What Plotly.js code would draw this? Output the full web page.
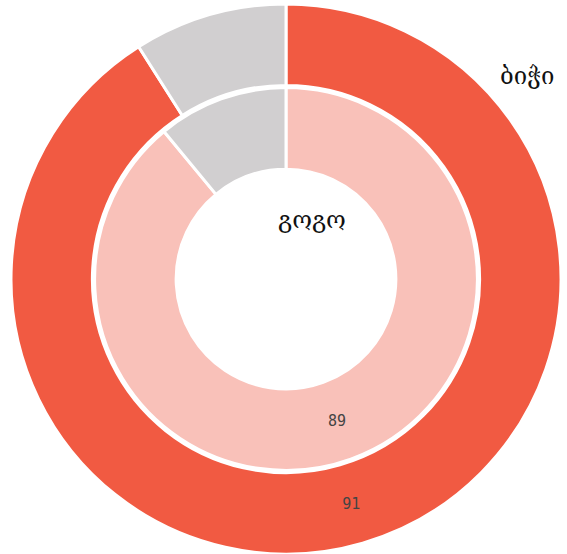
<!DOCTYPE html>
<html>
<head>
<meta charset="utf-8">
<script src="https://cdn.plot.ly/plotly-3.0.1.min.js"></script>
<style>html,body{margin:0;padding:0;background:#fff;}</style>
</head>
<body>
<div id="chart" style="width:567px;height:554px;"></div>
<script>
const categories = ["yes", "no"];
const boyValues = [91, 9];
const girlValues = [89, 11];
const boyLabel = "ბიჭი";
const girlLabel = "გოგო";

const outerColors = ["#F15A42", "#D1CFD0"];
const innerColors = ["#F9C1B9", "#D1CFD0"];

const data = [
  {
    type: "pie",
    name: boyLabel,
    labels: categories,
    values: boyValues,
    hole: 0.704,
    sort: false,
    direction: "clockwise",
    rotation: 0,
    domain: {x: [0, 1], y: [0, 1]},
    marker: {colors: outerColors, line: {color: "#fff", width: 3}},
    textinfo: "text",
    texttemplate: ["%{value}", ""],
    textposition: "inside",
    insidetextorientation: "horizontal",
    textfont: {family: "DejaVu Sans Mono", size: 15, color: "#444"},
    hoverinfo: "none",
    showlegend: false
  },
  {
    type: "pie",
    name: girlLabel,
    labels: categories,
    values: girlValues,
    hole: 0.574,
    sort: false,
    direction: "clockwise",
    rotation: 0,
    domain: {x: [0.152, 0.848], y: [0.152, 0.848]},
    marker: {colors: innerColors, line: {color: "#fff", width: 3}},
    textinfo: "text",
    texttemplate: ["%{value}", ""],
    textposition: "inside",
    insidetextorientation: "horizontal",
    textfont: {family: "DejaVu Sans Mono", size: 15, color: "#444"},
    hoverinfo: "none",
    showlegend: false
  }
];

const layout = {
  width: 567,
  height: 554,
  margin: {l: 11, r: 6, t: 4, b: 0},
  paper_bgcolor: "#fff",
  plot_bgcolor: "#fff",
  showlegend: false,
  annotations: [
    {text: boyLabel, xref: "paper", yref: "paper", x: 0.938, y: 0.869, xanchor: "center", yanchor: "middle", showarrow: false,
     font: {family: "DejaVu Serif", size: 24, color: "#111"}},
    {text: girlLabel, xref: "paper", yref: "paper", x: 0.547, y: 0.607, xanchor: "center", yanchor: "middle", showarrow: false,
     font: {family: "DejaVu Serif", size: 24, color: "#111"}}
  ]
};

Plotly.newPlot("chart", data, layout, {displayModeBar: false, staticPlot: true});
</script>
</body>
</html>
